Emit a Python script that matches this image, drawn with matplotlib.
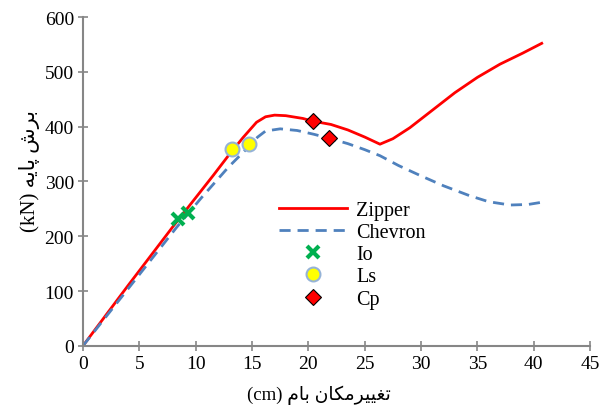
import matplotlib.pyplot as plt

# roof displacement (cm) vs base shear (kN)
zipper_x = [0, 4, 8, 11.56, 12.9, 14.2, 15.4, 16.2, 17, 18, 19.5, 20.4, 22, 23.5, 25, 26.35,
            27.5, 29, 31, 33, 35, 37, 39, 40.7]
zipper_y = [0, 110, 218, 311, 347, 380, 408, 418, 421, 420, 415, 410, 404, 394, 381, 368,
            378, 398, 430, 462, 490, 514, 534, 552]

chevron_x = [0, 4, 8.3, 10.5, 12.9, 14.5, 15.5, 16.2, 17.5, 19, 20.5, 21.8, 23.5, 25, 26.35,
             28, 29.9, 32, 34.3, 36, 37.9, 39.5, 40.7]
chevron_y = [0, 104, 216, 270, 326, 359, 381, 392, 396, 393, 386, 379, 369, 358, 347,
             329, 311, 292, 274, 263, 257, 258, 262]

io_x = [8.4, 9.3]
io_y = [232, 243]
ls_x = [13.2, 14.7]
ls_y = [359, 368]
cp_x = [20.4, 21.8]
cp_y = [410, 379]

# Persian labels, written in visual order with presentation forms
xlabel = "(cm) \ufee1\ufe8e\ufe91 \ufee5\ufe8e\ufb91\ufee3\ufeae\ufbff\ufbff\ufed0\ufe97"
ylabel = "(kN) \ufeea\ufbfe\ufe8e\ufb58 \ufeb5\ufeae\ufe91"

plt.rcParams["font.family"] = ["Liberation Serif", "DejaVu Sans"]
plt.rcParams["font.size"] = 14

fig = plt.figure(figsize=(6.01, 4.10), dpi=100)
ax = fig.add_axes([0.138, 0.154, 0.844, 0.802])

ax.plot(zipper_x, zipper_y, color="#FF0000", linewidth=2, label="Zipper")
ax.plot(chevron_x, chevron_y, color="#4F81BD", linewidth=2, linestyle=(0, (4, 2.5)),
        label="Chevron")
ax.plot(io_x, io_y, linestyle="none", marker="x", color="#00B050", markersize=9,
        markeredgewidth=3, label="Io")
ax.plot(ls_x, ls_y, linestyle="none", marker="o", markerfacecolor="#FFFF00",
        markeredgecolor="#95B3D7", markeredgewidth=1.5, markersize=10, label="Ls")
ax.plot(cp_x, cp_y, linestyle="none", marker="D", markerfacecolor="#FF0000",
        markeredgecolor="black", markeredgewidth=0.8, markersize=8, label="Cp")

ax.set_xlim(0, 45)
ax.set_ylim(0, 600)
ax.set_xticks(range(0, 46, 5))
ax.set_yticks(range(0, 601, 100))

for side in ("top", "right"):
    ax.spines[side].set_visible(False)
for side in ("left", "bottom"):
    ax.spines[side].set_color("#868686")
    ax.spines[side].set_linewidth(1.5)
ax.tick_params(direction="inout", length=7, width=1.2, color="#868686", labelsize=14,
               pad=3)

ax.set_xlabel(xlabel, fontsize=13.5)
ax.set_ylabel(ylabel, fontsize=15)
ax.xaxis.set_label_coords(0.465, -0.118)
ax.yaxis.set_label_coords(-0.085, 0.535)

ax.legend(loc="upper left", bbox_to_anchor=(0.37, 0.465), frameon=False, fontsize=14.5,
          handlelength=3.4, labelspacing=0.15, handletextpad=0.45, borderaxespad=0)

fig.savefig("out.png", dpi=100)
